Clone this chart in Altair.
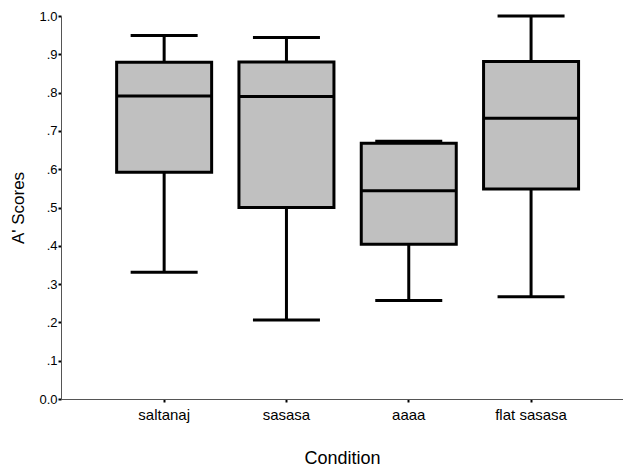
import altair as alt
import pandas as pd

conditions = ["saltanaj", "sasasa", "aaaa", "flat sasasa"]
lower = [0.331, 0.206, 0.257, 0.267]
q1 = [0.592, 0.500, 0.404, 0.548]
median = [0.791, 0.790, 0.544, 0.733]
q3 = [0.879, 0.880, 0.668, 0.881]
upper = [0.949, 0.944, 0.673, 1.0]
y_ticks = [0.0, 0.1, 0.2, 0.3, 0.4, 0.5, 0.6, 0.7, 0.8, 0.9, 1.0]

df = pd.DataFrame({
    "Condition": conditions,
    "lower": lower,
    "q1": q1,
    "median": median,
    "q3": q3,
    "upper": upper,
})

FONT = "Liberation Sans"

x = alt.X(
    "Condition:N",
    sort=conditions,
    scale=alt.Scale(paddingInner=0, paddingOuter=0.2975, align=0.577),
    axis=alt.Axis(
        title="Condition",
        labelAngle=0,
        labelFont=FONT,
        labelFontSize=15,
        labelColor="black",
        labelPadding=5,
        tickSize=3,
        tickWidth=2,
        tickColor="black",
        domainColor="#555555",
        domainWidth=1,
        titleFont=FONT,
        titleFontSize=18,
        titleFontWeight="normal",
        titleColor="black",
        titlePadding=27,
        grid=False,
    ),
)

yscale = alt.Scale(domain=[0, 1], nice=False, zero=True)
yaxis = alt.Axis(
    title="A' Scores",
    values=y_ticks,
    labelExpr="datum.value == 0 ? '0.0' : (datum.value >= 1 ? '1.0' : '.' + round(datum.value * 10))",
    labelFont=FONT,
    labelFontSize=13,
    labelColor="black",
    labelPadding=1,
    tickSize=3,
    tickWidth=2,
    tickColor="black",
    domainColor="#555555",
    domainWidth=1,
    titleFont=FONT,
    titleFontSize=17,
    titleFontWeight="normal",
    titleColor="black",
    titlePadding=11,
    grid=False,
)

base = alt.Chart(df)

whisker_low = base.mark_rule(color="black", strokeWidth=3).encode(
    x=x,
    y=alt.Y("lower:Q", scale=yscale, axis=yaxis),
    y2="q1:Q",
)
whisker_high = base.mark_rule(color="black", strokeWidth=3).encode(
    x=x,
    y=alt.Y("q3:Q", scale=yscale, axis=yaxis),
    y2="upper:Q",
)
box = base.mark_bar(size=95, fill="#c0c0c0", stroke="black", strokeWidth=3).encode(
    x=x,
    y=alt.Y("q1:Q", scale=yscale, axis=yaxis),
    y2="q3:Q",
)
med = base.mark_tick(color="black", size=95, thickness=3, opacity=1).encode(
    x=x,
    y=alt.Y("median:Q", scale=yscale, axis=yaxis),
)
cap_low = base.mark_tick(color="black", size=67, thickness=3, opacity=1).encode(
    x=x,
    y=alt.Y("lower:Q", scale=yscale, axis=yaxis),
)
cap_high = base.mark_tick(color="black", size=67, thickness=3, opacity=1).encode(
    x=x,
    y=alt.Y("upper:Q", scale=yscale, axis=yaxis),
)

chart = (
    alt.layer(whisker_low, whisker_high, box, med, cap_low, cap_high)
    .properties(
        width=562,
        height=383,
        background="white",
        autosize=alt.AutoSizeParams(type="none"),
        padding={"left": 53, "top": 8, "right": 0, "bottom": 69},
    )
    .configure_view(stroke="transparent", strokeWidth=0)
)

chart.save("out.html", embed_options={"renderer": "svg", "actions": False})
